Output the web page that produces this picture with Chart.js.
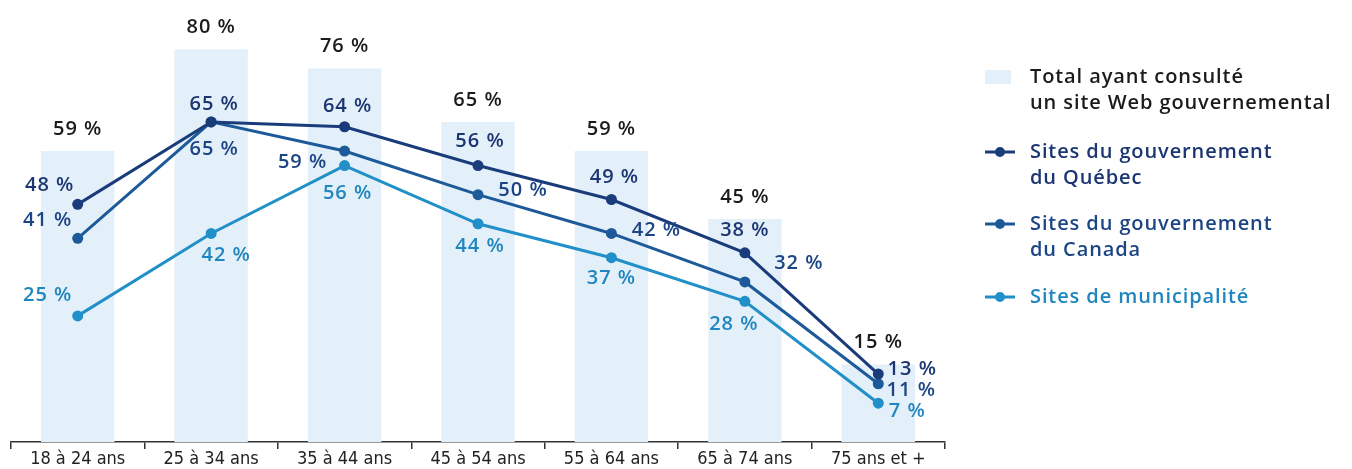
<!DOCTYPE html>
<html lang="fr">
<head>
<meta charset="utf-8">
<title>Consultation de sites Web gouvernementaux selon l'âge</title>
<script src="https://cdn.jsdelivr.net/npm/chart.js@4.4.1/dist/chart.umd.min.js"></script>
<style>
  html, body { margin: 0; padding: 0; background: #fff; }
  #wrap { width: 1352px; height: 469px; position: relative; }
</style>
</head>
<body>
<div id="wrap"><canvas id="chart" width="1352" height="469"></canvas></div>
<script>
// ---- data ----
const ageGroups = ["18 à 24 ans", "25 à 34 ans", "35 à 44 ans", "45 à 54 ans", "55 à 64 ans", "65 à 74 ans", "75 ans et +"];
const totalConsulted = [59, 80, 76, 65, 59, 45, 15];
const quebecSites = [48, 65, 64, 56, 49, 38, 13];
const canadaSites = [41, 65, 59, 50, 42, 32, 11];
const municipalSites = [25, 42, 56, 44, 37, 28, 7];

const seriesNames = [
    ["Total ayant consulté", "un site Web gouvernemental"],
    ["Sites du gouvernement", "du Québec"],
    ["Sites du gouvernement", "du Canada"],
    ["Sites de municipalité"]
];

// ---- styles ----
const FONT = "'Open Sans', 'Noto Sans', sans-serif";
const barColor = "#e4f0f9";
const navy = "#1a3c7b";
const mid = "#1d5a99";
const light = "#2190c8";
const labelColors = ["#1b1b1b", "#1b3672", "#1c4585", "#1f86bf"];

// label offsets (dx, dy) from each point, per series
const labelOffsets = [
    null,
    [[-28,-19],[3,-18],[3,-20],[2,-24],[3,-22],[0,-23],[34,-5]],
    [[-30,-18],[3,27],[-42,11],[45,-4],[45,-3],[54,-19],[33,6]],
    [[-30,-21],[15,22],[3,28],[2,23],[0,21],[-11,23],[29,8]]
];

const valueLabels = {
    id: "valueLabels",
    afterDatasetsDraw(chart) {
        const ctx = chart.ctx;
        ctx.save();
        ctx.textAlign = "center";
        ctx.textBaseline = "middle";
        ctx.font = "600 20px " + FONT;
        ctx.letterSpacing = "1px";
        chart.data.datasets.forEach((ds, i) => {
            const meta = chart.getDatasetMeta(i);
            meta.data.forEach((el, j) => {
                const txt = ds.data[j] + " %";
                ctx.fillStyle = labelColors[i];
                if (i === 0) {
                    ctx.fillText(txt, el.x, el.y - 22);
                } else {
                    const off = labelOffsets[i][j];
                    ctx.fillText(txt, el.x + off[0], el.y + off[1]);
                }
            });
        });
        ctx.restore();
    }
};

const sideLegend = {
    id: "sideLegend",
    afterDraw(chart) {
        const ctx = chart.ctx;
        const x0 = 985, tx = 1030;
        const rows = [77, 152, 224, 297];
        const lineCols = [null, navy, mid, light];
        ctx.save();
        ctx.font = "600 20px " + FONT;
        ctx.letterSpacing = "0.9px";
        ctx.textAlign = "left";
        ctx.textBaseline = "middle";
        rows.forEach((y, i) => {
            if (i === 0) {
                ctx.fillStyle = barColor;
                ctx.fillRect(x0, y - 7, 26, 14);
            } else {
                ctx.strokeStyle = lineCols[i];
                ctx.lineWidth = 3;
                ctx.beginPath();
                ctx.moveTo(x0, y);
                ctx.lineTo(x0 + 30, y);
                ctx.stroke();
                ctx.fillStyle = lineCols[i];
                ctx.beginPath();
                ctx.arc(x0 + 15, y, 5, 0, Math.PI * 2);
                ctx.fill();
            }
            ctx.fillStyle = labelColors[i];
            seriesNames[i].forEach((line, k) => {
                ctx.fillText(line, tx, y + k * 26);
            });
        });
        ctx.restore();
    }
};

const lineSet = (label, data, color) => ({
    type: "line",
    label: label,
    data: data,
    borderColor: color,
    backgroundColor: color,
    borderWidth: 3,
    pointRadius: 5.5,
    pointBorderWidth: 0,
    pointBackgroundColor: color,
    tension: 0,
    order: 0
});

new Chart(document.getElementById("chart").getContext("2d"), {
    type: "bar",
    data: {
        labels: ageGroups,
        datasets: [
            {
                type: "bar",
                label: seriesNames[0].join(" "),
                data: totalConsulted,
                backgroundColor: barColor,
                base: -1,
                categoryPercentage: 1,
                barPercentage: 0.55,
                order: 3
            },
            lineSet(seriesNames[1].join(" "), quebecSites, navy),
            lineSet(seriesNames[2].join(" "), canadaSites, mid),
            lineSet(seriesNames[3].join(" "), municipalSites, light)
        ]
    },
    options: {
        responsive: false,
        animation: false,
        layout: { padding: { left: 11, right: 407, top: 0, bottom: 0 } },
        plugins: {
            legend: { display: false },
            tooltip: { enabled: false }
        },
        scales: {
            y: {
                display: false,
                min: -1,
                max: 89
            },
            x: {
                offset: true,
                border: { display: true, color: "#333", width: 1.5 },
                grid: {
                    offset: true,
                    drawOnChartArea: false,
                    drawTicks: true,
                    tickLength: 7,
                    color: "#333",
                    lineWidth: 1.5
                },
                ticks: {
                    color: "#222",
                    padding: 1,
                    font: { family: "'Liberation Sans Narrow', 'DejaVu Sans Condensed', sans-serif", size: 18, lineHeight: 1 }
                }
            }
        }
    },
    plugins: [valueLabels, sideLegend]
});
</script>
</body>
</html>
